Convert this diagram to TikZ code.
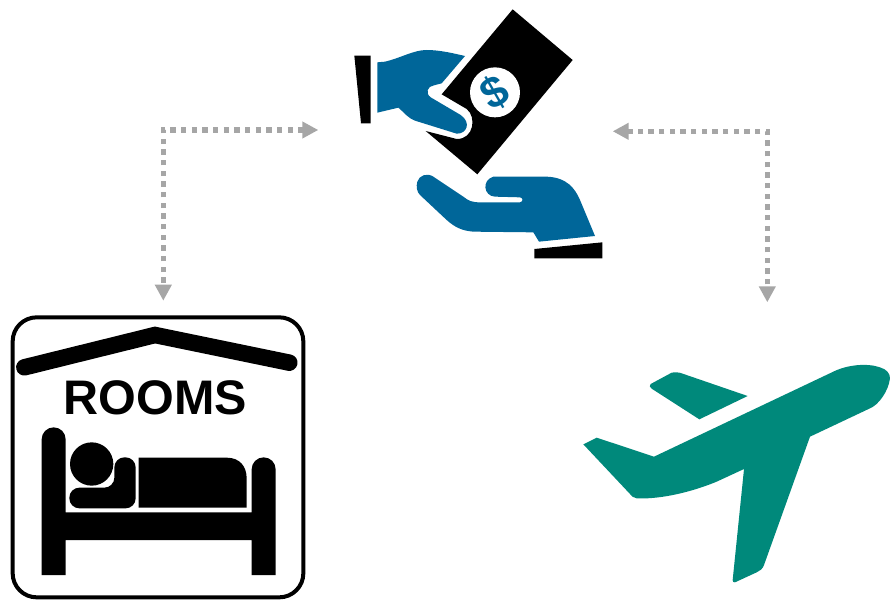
\documentclass[tikz,border=0pt]{standalone}
\usepackage{fontspec}
\setmainfont{Liberation Sans}
\usetikzlibrary{arrows.meta}
\definecolor{payblue}{HTML}{006699}
\definecolor{planeteal}{HTML}{00897B}
\definecolor{dotgray}{HTML}{A6A6A6}
\tikzset{
  dotlink/.style={draw=dotgray,line width=5.33pt,line join=miter,
    dash pattern=on 5.33pt off 5.33pt,dash phase=7.67pt,
    {Triangle[length=16pt,width=16pt,fill=dotgray]}-{Triangle[length=16pt,width=16pt,fill=dotgray]}},
  zoomed/.style={x=0.33333pt,y=-0.33333pt},
}
\begin{document}
\begin{tikzpicture}[x=1pt,y=-1pt]
\useasboundingbox (0,0) rectangle (890,599);
\fill[white] (0,0) rectangle (890,599);

% connectors
\coordinate (roomsEnd) at (163.3,300.7);
\coordinate (payLeft) at (318.3,130);
\coordinate (planeEnd) at (767.3,302.3);
\coordinate (payRight) at (612.7,131.3);
\draw[dotlink] (roomsEnd) |- (payLeft);
\draw[dotlink] (planeEnd) |- (payRight);

% money and hands
\begin{scope}[shift={(340,0)},zoomed]
  \fill[black] (43,167) -- (92,167) -- (92,370) -- (63,370) -- cycle;
  \fill[payblue] (112,187) -- (135,185) .. controls (180,175) and (220,150) .. (260,150)
    .. controls (300,150) and (340,160) .. (375,168) -- (305,250) -- (282,256)
    .. controls (262,258) and (255,280) .. (272,292) -- (362,345)
    .. controls (395,368) and (380,402) .. (350,401) -- (225,362)
    .. controls (205,355) and (195,340) .. (175,323) -- (112,338) -- cycle;
  \fill[black] (518,28) -- (305,283) -- (380,327)
    .. controls (410,350) and (402,418) .. (350,417)
    -- (257,393) -- (412,523) -- (698,180) -- cycle;
  \fill[white] (465,277) circle[radius=75];
  \node[rotate=30,text=payblue,font=\bfseries\fontsize{44pt}{44pt}\selectfont,inner sep=0pt] (dollar) at (465,277) {\$};
  \fill[payblue] (232,545) .. controls (238,525) and (262,518) .. (280,530)
    -- (370,590) .. controls (385,602) and (395,607) .. (420,607)
    -- (540,607) .. controls (550,605) and (550,594) .. (540,592)
    -- (465,590) .. controls (430,588) and (425,540) .. (460,530)
    -- (620,530) .. controls (680,532) and (705,565) .. (720,600)
    -- (765,708) -- (597,725) -- (580,697)
    -- (400,695) .. controls (365,692) and (345,682) .. (320,660)
    -- (240,585) .. controls (230,575) and (228,560) .. (232,545) -- cycle;
  \fill[black] (583,747) -- (787,727) -- (787,775) -- (583,775) -- cycle;
\end{scope}

% rooms sign
\begin{scope}[shift={(0,310)},zoomed]
  \draw[black,line width=4pt,rounded corners=24pt] (38,22) rectangle (910,862);
  \draw[black,line width=16.5pt,line cap=round,line join=miter] (73,172) -- (465,75) -- (868,158);
  \node[font=\bfseries\fontsize{48.5pt}{48.5pt}\selectfont,text=black,inner sep=0pt] (rooms) at (466,263) {ROOMS};
  \fill[black] (125,795) -- (125,388) arc[start angle=180,end angle=360,radius=36] -- (197,607)
    -- (755,607) -- (755,478) arc[start angle=180,end angle=360,radius=36] -- (827,795) -- (755,795)
    -- (755,690) -- (197,690) -- (197,795) -- cycle;
  \fill[black] (275,462) circle[radius=65];
  \fill[black,rounded corners=10pt] (208,533) -- (343,533) -- (343,442) -- (407,442) -- (407,595) -- (208,595) -- cycle;
  \fill[black] (416,443) -- (680,443) .. controls (720,443) and (740,470) .. (740,505) -- (740,593) -- (416,593) -- cycle;
\end{scope}

% plane
\begin{scope}[shift={(570,350)},zoomed]
  \fill[planeteal] (40,283) -- (80,263) -- (252,320) -- (790,65)
    .. controls (830,45) and (890,38) .. (930,52)
    .. controls (950,58) and (960,70) .. (960,85)
    .. controls (955,125) and (925,165) .. (900,175)
    -- (720,260) -- (582,645) .. controls (577,658) and (570,662) .. (560,667)
    -- (495,697) .. controls (490,698) and (488,695) .. (488,690)
    -- (522,357) -- (440,395) .. controls (350,432) and (260,448) .. (200,445)
    .. controls (190,444) and (185,438) .. (180,432) -- cycle;
  \fill[planeteal] (242,102) -- (305,68) .. controls (315,66) and (328,67) .. (335,70)
    -- (533,138) -- (388,208) -- (245,116) .. controls (238,112) and (238,106) .. (242,102) -- cycle;
\end{scope}
\end{tikzpicture}
\end{document}
